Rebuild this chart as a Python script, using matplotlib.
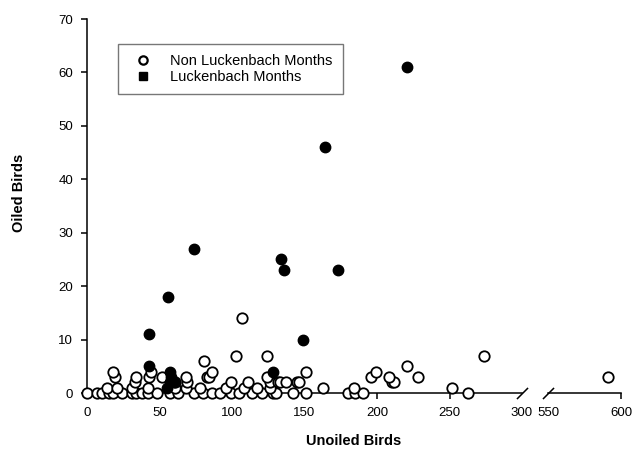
import matplotlib
matplotlib.use('Agg')
import matplotlib.pyplot as plt
from matplotlib.lines import Line2D

plt.rcParams['font.family'] = ['Liberation Sans', 'DejaVu Sans']

# Non Luckenbach months (open circles)
non_x = [0, 7, 10, 15, 18, 24, 31, 34, 38, 42, 48, 57, 63, 74, 80, 86, 92, 99, 105, 114,
         121, 128, 130, 142, 151, 180, 185, 190, 263,
         14, 21, 31, 42, 61, 68, 78, 96, 108, 117, 126, 163, 184, 252,
         33, 61, 69, 99, 111, 126, 132, 133, 137, 145, 146, 210, 212,
         19, 34, 43, 52, 68, 83, 84, 124, 196, 208, 228, 591,
         18, 44, 86, 151, 199,
         221, 81, 103, 124, 274, 107]
non_y = [0] * 29 + [1] * 14 + [2] * 13 + [3] * 12 + [4] * 5 + [5, 6, 7, 7, 7, 14]

# Luckenbach months (filled)
luck_x = [221, 164, 74, 134, 136, 173, 56, 43, 149, 43, 57, 58, 57, 60, 55, 128]
luck_y = [61, 46, 27, 25, 23, 23, 18, 11, 10, 5, 4, 3, 2, 2, 1, 4]

fig = plt.figure(figsize=(6.34, 4.54), dpi=100)
ax1 = fig.add_axes([87/634, 1 - 393/454, (522 - 87)/634, (393 - 19)/454])
ax2 = fig.add_axes([548/634, 1 - 393/454, (621 - 548)/634, (393 - 19)/454], sharey=ax1)

# broken x axis: 0-300 on the left, 550-600 on the right
for ax, lo, hi in ((ax1, 0, 300), (ax2, 550, 600)):
    nx = [x for x in non_x if lo <= x <= hi]
    ny = [y for x, y in zip(non_x, non_y) if lo <= x <= hi]
    lx = [x for x in luck_x if lo <= x <= hi]
    ly = [y for x, y in zip(luck_x, luck_y) if lo <= x <= hi]
    ax.plot(nx, ny, 'o', mfc='white', mec='black', mew=1.3, ms=7.5,
            linestyle='none', clip_on=False, zorder=3)
    ax.plot(lx, ly, 'o', mfc='black', mec='black', ms=7.5,
            linestyle='none', clip_on=False, zorder=4)
    ax.set_xlim(lo, hi)
    ax.spines['top'].set_visible(False)
    ax.spines['right'].set_visible(False)
    ax.spines['bottom'].set_linewidth(1.1)
    ax.spines['left'].set_linewidth(1.1)
    ax.tick_params(direction='out', length=4, width=1.1, labelsize=9.5, pad=6)

ax1.set_ylim(0, 70)
ax1.set_xticks([0, 50, 100, 150, 200, 250, 300])
ax1.xaxis.get_major_ticks()[-1].tick1line.set_visible(False)
ax1.set_yticks(range(0, 71, 10))

ax2.set_xticks([550, 600])
ax2.xaxis.get_major_ticks()[0].tick1line.set_visible(False)
ax2.spines['left'].set_visible(False)
ax2.tick_params(axis='y', left=False, labelleft=False)

# break marks
kw = dict(marker=[(-1, -1), (1, 1)], markersize=8, linestyle='none',
          color='black', mec='black', mew=1.1, clip_on=False)
ax1.plot([1], [0], transform=ax1.transAxes, **kw)
ax2.plot([0], [0], transform=ax2.transAxes, **kw)

fig.text(354/634, 1 - 441/454, 'Unoiled Birds', ha='center', va='center',
         fontsize=10.5, fontweight='bold')
fig.text(19/634, 1 - 193/454, 'Oiled Birds', ha='center', va='center',
         rotation=90, fontsize=10.5, fontweight='bold')

handles = [Line2D([], [], marker='o', mfc='white', mec='black', mew=1.6, ms=6,
                  linestyle='none'),
           Line2D([], [], marker='s', mfc='black', mec='black', ms=6,
                  linestyle='none')]
leg = ax1.legend(handles, ['Non Luckenbach Months', 'Luckenbach Months'],
                 loc='upper left', bbox_to_anchor=((118 - 87)/435, (393 - 44)/374),
                 fontsize=10.5, frameon=True, fancybox=False, borderpad=0.7,
                 handlelength=2.0, handletextpad=0.9, labelspacing=0.1,
                 borderaxespad=0)
leg.get_frame().set_edgecolor('#555555')
leg.get_frame().set_linewidth(1.0)

fig.savefig('out.png', dpi=100)
